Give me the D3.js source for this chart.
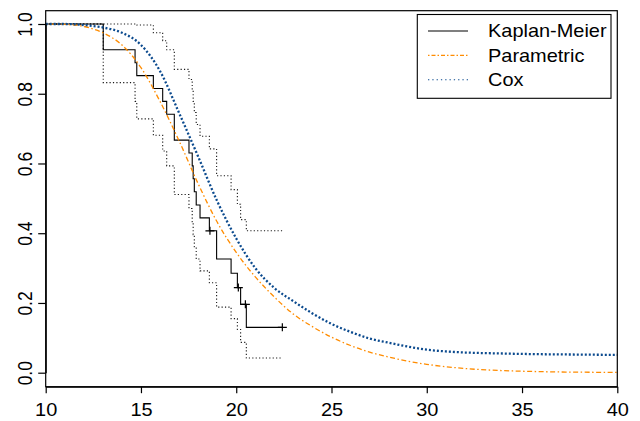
<!DOCTYPE html>
<html>
<head>
<meta charset="utf-8">
<script src="https://cdn.jsdelivr.net/npm/d3@7"></script>
<style>
  html, body { margin: 0; padding: 0; background: #fff; }
  svg { display: block; }
  text { font-family: "Liberation Sans", Arial, Helvetica, sans-serif; fill: #000; }
</style>
</head>
<body>
<svg id="chart" width="640" height="421"></svg>
<script>
// Kaplan-Meier estimate: event times and survival after each step
const kmTimes = [13.02, 14.69, 14.78, 15.65, 16.14, 16.35, 16.75, 17.52, 17.69, 17.74,
                 17.80, 17.90, 18.10, 18.59, 18.97, 19.73, 20.06, 20.23, 20.53];
const kmSurv  = [0.926, 0.889, 0.852, 0.815, 0.778, 0.741, 0.667, 0.630, 0.593, 0.556,
                 0.519, 0.481, 0.444, 0.407, 0.326, 0.285, 0.244, 0.196, 0.130];
// pointwise 95% confidence limits of the Kaplan-Meier curve
const kmUpper = [1.000, 1.000, 0.997, 0.975, 0.952, 0.926, 0.870, 0.841, 0.810, 0.778,
                 0.746, 0.712, 0.678, 0.642, 0.565, 0.525, 0.483, 0.439, 0.407];
const kmLower = [0.832, 0.778, 0.728, 0.681, 0.636, 0.593, 0.511, 0.471, 0.433, 0.396,
                 0.361, 0.326, 0.292, 0.258, 0.188, 0.155, 0.124, 0.087, 0.042];
// censored observations
const censorTimes = [18.62, 20.11, 20.48, 22.42];
const kmEnd = 22.42;

// parametric fit
const parTimes = [10, 11, 12, 13, 14, 15, 16, 17, 18, 19, 20, 21, 22, 23, 24, 25, 26, 27, 28, 29, 30, 32, 34, 36, 38, 40];
const parSurv  = [1.000, 0.999, 0.993, 0.975, 0.940, 0.875, 0.778, 0.665, 0.542, 0.432, 0.345, 0.275, 0.217, 0.168,
                  0.132, 0.102, 0.078, 0.059, 0.045, 0.033, 0.024, 0.012, 0.006, 0.003, 0.0015, 0.001];

// Cox model
const coxTimes = [10, 11, 12, 13, 14, 15, 16, 17, 18, 19, 20, 21, 22, 23, 24, 25, 26, 27, 28, 29, 30, 31, 32, 34, 36, 38, 40];
const coxSurv  = [1.000, 1.000, 0.997, 0.990, 0.975, 0.940, 0.865, 0.745, 0.620, 0.492, 0.385, 0.300, 0.243, 0.205,
                  0.170, 0.140, 0.117, 0.098, 0.086, 0.075, 0.066, 0.061, 0.058, 0.055, 0.053, 0.052, 0.051];

const xTicks = [10, 15, 20, 25, 30, 35, 40];
const yTicks = [0, 0.2, 0.4, 0.6, 0.8, 1.0];
const legendLabels = ["Kaplan-Meier", "Parametric", "Cox"];

const plotLeft = 45.7, plotRight = 617.3, plotTop = 10.7, plotBottom = 386.7;
const stretch = 1.14;      // horizontal text stretch
const fontSize = 17.5;

const svg = d3.select("#chart");
const x = d3.scaleLinear().domain([10, 40]).range([plotLeft, plotRight]);
const y = d3.scaleLinear().domain([0, 1]).range([372.7, 24]);

const colKM = "#000", colPar = "#ff8c00", colCox = "#0b4a8e";

// step-function helpers
function stepPoints(times, vals, end) {
  const pts = [[10, 1]];
  times.forEach((t, i) => pts.push([t, vals[i]]));
  pts.push([end, vals[vals.length - 1]]);
  return pts;
}
function survAt(t) {
  const i = d3.bisectRight(kmTimes, t);
  return i === 0 ? 1 : kmSurv[i - 1];
}

const stepLine = d3.line().x(d => x(d[0])).y(d => y(d[1])).curve(d3.curveStepAfter);
const smoothLine = d3.line().x(d => x(d[0])).y(d => y(d[1])).curve(d3.curveMonotoneX);

const plot = svg.append("g");

// confidence limits
[kmUpper, kmLower].forEach(v => {
  plot.append("path")
    .attr("d", stepLine(stepPoints(kmTimes, v, kmEnd)))
    .attr("fill", "none").attr("stroke", "#1a1a1a")
    .attr("stroke-width", 1.1).attr("stroke-dasharray", "1.2,2.2");
});

// Kaplan-Meier
plot.append("path")
  .attr("d", stepLine(stepPoints(kmTimes, kmSurv, kmEnd)))
  .attr("fill", "none").attr("stroke", colKM).attr("stroke-width", 1.1);

// censoring marks
plot.selectAll(".cens").data(censorTimes).enter().append("path")
  .attr("class", "cens")
  .attr("d", d => {
    const cx = x(d), cy = y(survAt(d));
    return `M${cx - 4.5},${cy}H${cx + 4.5}M${cx},${cy - 4}V${cy + 4}`;
  })
  .attr("stroke", colKM).attr("stroke-width", 1.2);

// parametric curve
plot.append("path")
  .attr("d", smoothLine(parTimes.map((t, i) => [t, parSurv[i]])))
  .attr("fill", "none").attr("stroke", colPar)
  .attr("stroke-width", 1.3).attr("stroke-dasharray", "1.5,2.5,5,2.5");

// Cox curve
plot.append("path")
  .attr("d", smoothLine(coxTimes.map((t, i) => [t, coxSurv[i]])))
  .attr("fill", "none").attr("stroke", colCox)
  .attr("stroke-width", 2.3).attr("stroke-dasharray", "2,2");

// frame
svg.append("rect")
  .attr("x", plotLeft).attr("y", plotTop)
  .attr("width", plotRight - plotLeft).attr("height", plotBottom - plotTop)
  .attr("fill", "none").attr("stroke", "#000").attr("stroke-width", 1.2);

// x axis
const gx = svg.append("g").attr("transform", `translate(0,${plotBottom})`)
  .call(d3.axisBottom(x).tickValues(xTicks).tickSize(6.5).tickSizeOuter(0).tickFormat(d3.format("d")));
gx.select(".domain").attr("stroke", "#000").attr("stroke-width", 1.2);
gx.selectAll(".tick line").attr("stroke", "#000").attr("stroke-width", 1.2);
gx.selectAll(".tick text")
  .attr("y", 0).attr("dy", 0)
  .attr("transform", `translate(0,29.3) scale(${stretch},1)`)
  .attr("font-size", fontSize).attr("font-family", null).attr("fill", "#000");

// y axis
const gy = svg.append("g").attr("transform", `translate(${plotLeft},0)`)
  .call(d3.axisLeft(y).tickValues(yTicks).tickSize(7.5).tickSizeOuter(0).tickFormat(d3.format(".1f")));
gy.select(".domain").attr("stroke", "#000").attr("stroke-width", 1.2);
gy.selectAll(".tick line").attr("stroke", "#000").attr("stroke-width", 1.2);
gy.selectAll(".tick text")
  .attr("x", 0).attr("y", 0).attr("dy", 0)
  .attr("text-anchor", "middle")
  .attr("transform", `translate(-14,0) scale(${stretch},1) rotate(-90)`)
  .attr("font-size", fontSize).attr("font-family", null).attr("fill", "#000");
svg.selectAll(".tick text").style("font-family", "'Liberation Sans', Arial, Helvetica, sans-serif");

// legend
const lg = svg.append("g");
lg.append("rect")
  .attr("x", 417.3).attr("y", 14.5).attr("width", 611 - 417.3).attr("height", 98.3 - 14.5)
  .attr("fill", "#fff").attr("stroke", "#000").attr("stroke-width", 1.1);
const legendStyles = [
  { color: colKM, width: 1.1, dash: null },
  { color: colPar, width: 1.1, dash: "1.5,2,4,2" },
  { color: colCox, width: 1.1, dash: "1.3,3" }
];
legendLabels.forEach((lab, i) => {
  const ly = 31 + i * 24.4;
  const s = legendStyles[i];
  lg.append("line")
    .attr("x1", 428).attr("x2", 468).attr("y1", ly).attr("y2", ly)
    .attr("stroke", s.color).attr("stroke-width", s.width)
    .attr("stroke-dasharray", s.dash);
  lg.append("text")
    .attr("transform", `translate(488,${ly + 6.3}) scale(${stretch},1)`)
    .attr("font-size", fontSize)
    .text(lab);
});
</script>
</body>
</html>
